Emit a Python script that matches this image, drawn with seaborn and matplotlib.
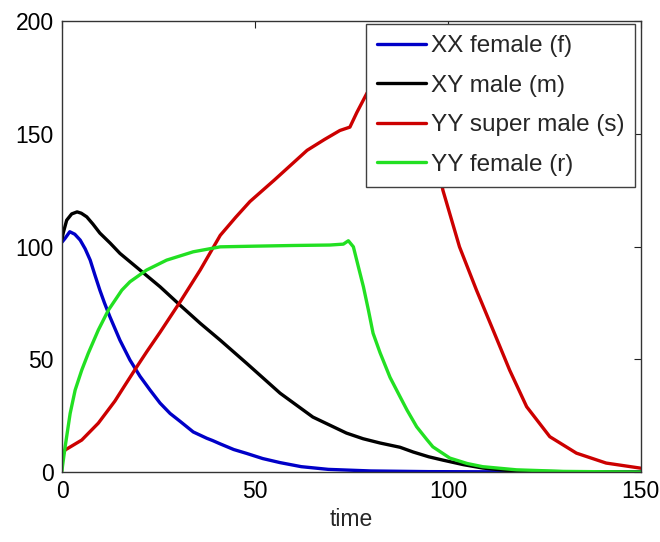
import matplotlib
matplotlib.use("Agg")
import matplotlib.pyplot as plt
import seaborn as sns

# ---------------- data ----------------
labels = ["XX female (f)", "XY male (m)", "YY super male (s)", "YY female (r)"]
colors = ["#0000c8", "#000000", "#cc0000", "#22e022"]

t_f = [0, 0.8, 2, 3.3, 4.7, 6, 7.3, 8.5, 9.8, 11, 12.4, 15, 17.6, 20.2, 22.8, 25.4, 28, 30.6, 34,
       37.5, 39, 41, 44.5, 47.8, 52, 56.5, 62, 69, 80, 95, 115, 150]
v_f = [102, 103.7, 106.6, 105.5, 102.9, 99, 94, 87.5, 80.7, 75, 68.9, 58.5, 49.7, 42.5, 36.4, 30.6,
       26, 22.5, 17.8, 15, 14, 12.5, 10, 8.3, 6, 4.2, 2.4, 1.2, 0.5, 0.2, 0.1, 0]

t_m = [0, 0.3, 1.2, 2.5, 3.9, 5, 6.4, 8, 9.8, 12.5, 15, 20.2, 25.4, 30.6, 35.8, 41, 47.8, 56.5, 65,
       73.7, 78, 82.4, 87.6, 91, 95, 98.7, 104, 109, 115, 122, 135, 150]
v_m = [103.5, 106, 111.7, 114.5, 115.4, 114.8, 113.2, 110, 106, 101.5, 97, 89.6, 82.2, 74, 66, 58.5,
       48.3, 35, 24.4, 17.3, 14.8, 12.9, 11, 8.9, 6.8, 5.3, 3.3, 1.8, 0.8, 0.3, 0.1, 0]

t_s = [0, 0.8, 5.1, 9.4, 13.7, 16.3, 19.3, 22, 25.4, 30.6, 35.8, 41, 45, 48.7, 55, 63.5, 68, 72,
       74.6, 76.4, 79, 83, 87, 91, 95, 98.7, 103, 107.4, 111.7, 116, 120.4, 126.4, 133.3, 141,
       149.7, 150]
v_s = [7, 9.8, 14.2, 21.7, 31.5, 38.5, 46.5, 53.5, 62, 75.5, 89.6, 105, 113, 120, 129.5, 142.7,
       147.5, 151.5, 153, 159.5, 168, 178, 184, 180, 158, 125, 99.9, 80.7, 63, 45.2, 29, 15.7,
       8.4, 4, 1.8, 1.7]

t_r = [0, 0.1, 0.8, 2.1, 3.4, 5.1, 6.8, 9.4, 12, 15.5, 17.6, 21.9, 27.1, 34, 41, 50, 60, 69.4, 72.9,
       74.2, 75.5, 76.8, 78.1, 79.4, 80.6, 82.4, 85, 87.6, 89.4, 91.9, 94.5, 96.1, 100.5, 105, 109,
       117.8, 130, 150]
v_r = [0.5, 2.4, 11.2, 26, 36.4, 45.2, 52.7, 63, 71.8, 80.7, 84.4, 89.6, 94, 97.7, 99.9, 100.2,
       100.5, 100.7, 101.1, 102.6, 99.9, 91, 82.2, 71.8, 61.6, 53, 42, 33.4, 27.5, 20.1, 14.5, 11.2,
       6.2, 3.8, 2.4, 1, 0.3, 0]

series = [(t_f, v_f), (t_m, v_m), (t_s, v_s), (t_r, v_r)]

xticks = [0, 50, 100, 150]
yticks = [0, 50, 100, 150, 200]

# ---------------- style ----------------
sns.set_style("white")
plt.rcParams["font.family"] = ["Liberation Sans", "DejaVu Sans"]
plt.rcParams["xtick.direction"] = "in"
plt.rcParams["ytick.direction"] = "in"

fig, ax = plt.subplots(figsize=(6.6, 5.42), dpi=100)
fig.subplots_adjust(left=0.094, right=0.971, bottom=0.129, top=0.961)

for (t, v), lab, c in zip(series, labels, colors):
    sns.lineplot(x=t, y=v, sort=False, estimator=None, color=c, linewidth=2.4, label=lab, ax=ax)

ax.set_xlim(0, 150)
ax.set_ylim(0, 200)
ax.set_xticks(xticks)
ax.set_yticks(yticks)
ax.tick_params(labelsize=16.5, length=5, width=0.8, top=True, right=True, pad=6, colors="#222222")
ax.tick_params(labelcolor="black")
for sp in ax.spines.values():
    sp.set_visible(True)
    sp.set_color("#333333")
    sp.set_linewidth(1.0)

ax.set_xlabel("time", fontsize=16.5, labelpad=3)
ax.set_ylabel("")

leg = ax.legend(loc="upper right", bbox_to_anchor=(0.99, 0.993), borderaxespad=0,
                fontsize=17.5, handlelength=2.0, handletextpad=0.2, labelspacing=0.72,
                fancybox=False, framealpha=1, edgecolor="#404040", borderpad=0.45)
leg.get_frame().set_linewidth(1.0)

plt.savefig("out.png", dpi=100)
